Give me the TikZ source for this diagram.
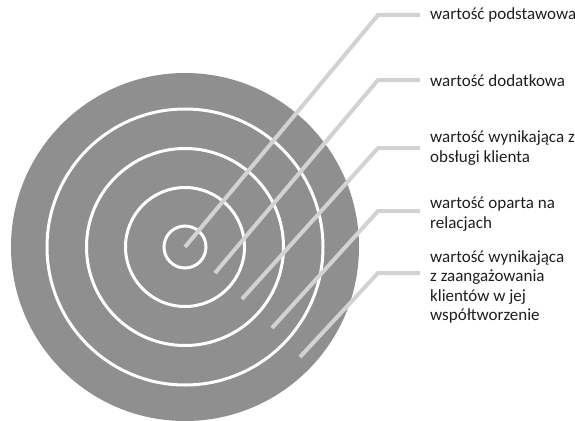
\documentclass[tikz,border=0pt]{standalone}
\usepackage{fontspec}
\setmainfont{Carlito}
\usepackage{xcolor}
\definecolor{diskgray}{HTML}{8F8F8F}
\definecolor{leadgray}{HTML}{D2D2D2}
\definecolor{txtgray}{HTML}{1E1E1E}

\begin{document}
\begin{tikzpicture}[x=1pt,y=-1pt,line cap=butt,
  ring/.style={draw=white,line width=3pt},
  leader/.style={draw=leadgray,line width=4pt},
  lbl/.style={anchor=west,align=left,inner xsep=10pt,inner ysep=0pt,text=txtgray,
    font=\fontsize{17}{19.3}\selectfont}]
\useasboundingbox (0,0) rectangle (575,420);
% target
\coordinate (c) at (185,247);
\fill[diskgray] (c) circle (174pt);
\draw[ring] (c) circle (138pt);
\draw[ring] (c) circle (98.5pt);
\draw[ring] (c) circle (59.5pt);
\draw[ring] (c) circle (21pt);
% start points of the leaders
\coordinate (p1) at (185,247);
\coordinate (p2) at (215,273);
\coordinate (p3) at (242,299);
\coordinate (p4) at (272,328);
\coordinate (p5) at (300,357);
% bends
\coordinate (b1) at (378,15);
\coordinate (b2) at (378,80);
\coordinate (b3) at (378,148);
\coordinate (b4) at (378,211);
\coordinate (b5) at (378,273);
% labels
\node[lbl] (t1) at (420,15) {wartość podstawowa};
\node[lbl] (t2) at (420,81) {wartość dodatkowa};
\node[lbl] (t3) at (420,148) {wartość wynikająca z\\obsługi klienta};
\node[lbl] (t4) at (420,214) {wartość oparta na\\relacjach};
\node[lbl] (t5) at (420,287) {wartość wynikająca\\z zaangażowania\\klientów w jej\\współtworzenie};
% leaders
\foreach \i in {1,...,5}
  \draw[leader] (p\i) -- (b\i) -- (b\i -| t\i.west);
\end{tikzpicture}
\end{document}
